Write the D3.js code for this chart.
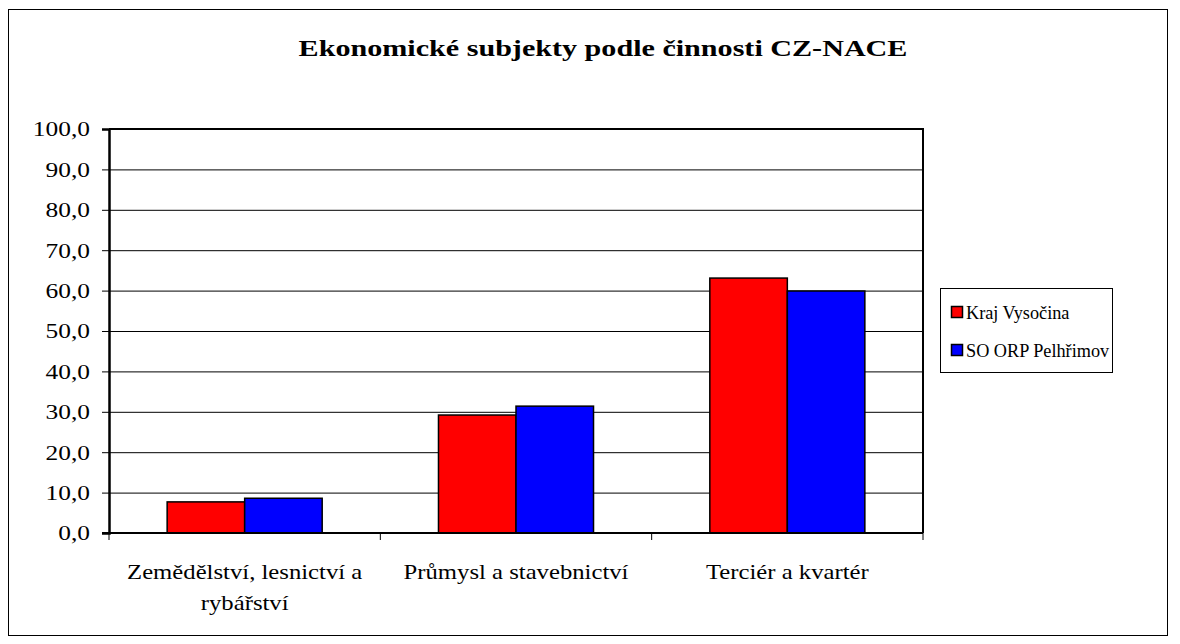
<!DOCTYPE html>
<html>
<head>
<meta charset="utf-8">
<script src="https://cdn.jsdelivr.net/npm/d3@7"></script>
<style>
  html, body { margin: 0; padding: 0; background: #fff; }
  svg { display: block; font-family: "Liberation Serif", "Times New Roman", serif; }
</style>
</head>
<body>
<svg id="chart" width="1180" height="644"></svg>
<script>
/* ── Data ─────────────────────────────────────────────────────── */
const categories = ["Zemědělství, lesnictví a rybářství", "Průmysl a stavebnictví", "Terciér a kvartér"];
const categoryLines = [["Zemědělství, lesnictví a", "rybářství"], ["Průmysl a stavebnictví"], ["Terciér a kvartér"]];
const seriesNames = ["Kraj Vysočina", "SO ORP Pelhřimov"];
const krajVysocina = [7.7, 29.2, 63.1];
const orpPelhrimov = [8.6, 31.4, 59.9];
const yTicks = [0, 10, 20, 30, 40, 50, 60, 70, 80, 90, 100];
const seriesColors = ["#ff0000", "#0000ff"];

/* ── Layout ───────────────────────────────────────────────────── */
const svg = d3.select("#chart");
const plot = { left: 109, right: 923, top: 129, bottom: 533 };

// original chart text is stretched horizontally; sx per text group
const txt = (sel, x, y, anchor, sx) =>
  sel.attr("transform", `translate(${x},${y}) scale(${sx},1)`).attr("text-anchor", anchor || "start");

// outer frame
svg.append("rect").attr("x", 8.5).attr("y", 9.5).attr("width", 1159).attr("height", 626)
  .attr("fill", "#fff").attr("stroke", "#000").attr("stroke-width", 1);

// title
txt(svg.append("text"), 603, 56, "middle", 1.255)
  .attr("font-size", 24).attr("font-weight", "bold")
  .text("Ekonomické subjekty podle činnosti CZ-NACE");

/* ── Scales ───────────────────────────────────────────────────── */
const y = d3.scaleLinear().domain([0, 100]).range([plot.bottom, plot.top]);
const x0 = d3.scaleBand().domain(categories).range([plot.left, plot.right]).padding(0);
const groupW = x0.bandwidth() * 0.5714;
const x1 = d3.scaleBand().domain(seriesNames).range([0, groupW]).padding(0);

/* ── Grid ─────────────────────────────────────────────────────── */
svg.append("g").attr("transform", `translate(${plot.left},0)`)
  .call(d3.axisLeft(y).tickValues(yTicks.slice(1)).tickSize(-(plot.right - plot.left)).tickFormat(""))
  .call(g => g.select(".domain").remove())
  .call(g => g.selectAll("line").attr("stroke", "#000").attr("stroke-width", 1));

// plot border (top + right)
svg.append("path")
  .attr("d", `M${plot.left},${plot.top}H${plot.right}V${plot.bottom}`)
  .attr("fill", "none").attr("stroke", "#000").attr("stroke-width", 2);

/* ── Bars ─────────────────────────────────────────────────────── */
const values = [krajVysocina, orpPelhrimov];
const barData = [];
categories.forEach((c, i) => seriesNames.forEach((s, j) => barData.push({ c, s, j, v: values[j][i] })));

svg.append("g").selectAll("rect").data(barData).join("rect")
  .attr("x", d => x0(d.c) + (x0.bandwidth() - groupW) / 2 + x1(d.s))
  .attr("y", d => y(d.v))
  .attr("width", x1.bandwidth())
  .attr("height", d => y(0) - y(d.v))
  .attr("fill", d => seriesColors[d.j])
  .attr("stroke", "#000").attr("stroke-width", 1.5);

/* ── Axes ─────────────────────────────────────────────────────── */
const YSX = 1.27;
const yAxis = svg.append("g").attr("transform", `translate(${plot.left},0)`)
  .call(d3.axisLeft(y).tickValues(yTicks).tickSize(7).tickPadding(12)
    .tickFormat(d => d3.format(".1f")(d).replace(".", ",")))
  .attr("font-family", null).attr("font-size", null);
yAxis.select(".domain").attr("stroke", "#000").attr("stroke-width", 2.5);
yAxis.selectAll("line").attr("stroke", "#000");
yAxis.selectAll("text").each(function () {
  d3.select(this).attr("font-size", 20).attr("fill", "#000")
    .attr("transform", `scale(${YSX},1)`).attr("x", -19 / YSX).attr("dy", "0.34em");
});

// x axis line + ticks at category boundaries
const bounds = categories.map(c => x0(c)).concat([plot.right]);
svg.append("line").attr("x1", plot.left - 7).attr("x2", plot.right)
  .attr("y1", plot.bottom).attr("y2", plot.bottom).attr("stroke", "#000").attr("stroke-width", 2);
svg.append("g").selectAll("line").data(bounds).join("line")
  .attr("x1", d => d).attr("x2", d => d).attr("y1", plot.bottom).attr("y2", plot.bottom + 7)
  .attr("stroke", "#000");

// category labels
categories.forEach((c, i) => {
  categoryLines[i].forEach((line, k) => {
    txt(svg.append("text"), x0(c) + x0.bandwidth() / 2, 579 + k * 31, "middle", 1.235)
      .attr("font-size", 20).text(line);
  });
});

/* ── Legend ───────────────────────────────────────────────────── */
const lg = svg.append("g");
lg.append("rect").attr("x", 940.5).attr("y", 288.5).attr("width", 172).attr("height", 84)
  .attr("fill", "#fff").attr("stroke", "#000");
seriesNames.forEach((s, j) => {
  const cy = 312 + j * 38;
  lg.append("rect").attr("x", 951.5).attr("y", cy - 5.5).attr("width", 11).attr("height", 11)
    .attr("fill", seriesColors[j]).attr("stroke", "#000").attr("stroke-width", 1.5);
  txt(lg.append("text"), 966, cy + 7, "start", 0.96).attr("font-size", 19).text(s);
});
</script>
</body>
</html>
